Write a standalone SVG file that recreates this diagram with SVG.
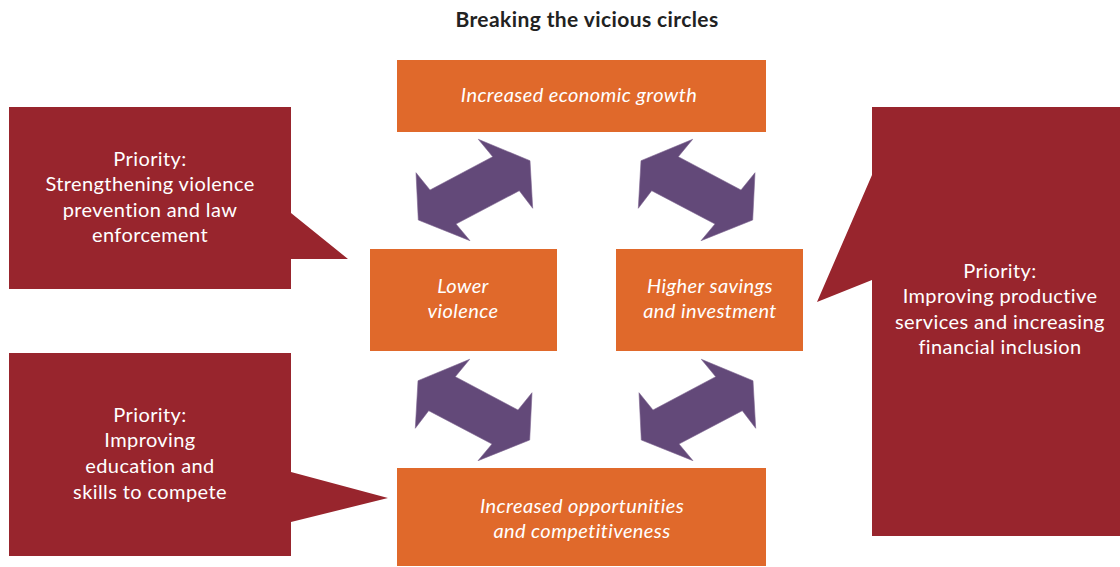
<svg xmlns="http://www.w3.org/2000/svg" width="1120" height="567" viewBox="0 0 1120 567">
<style>
.box{fill:#E0692B}
.call{fill:#98252D}
.arr{fill:#634979;stroke:#7d6590;stroke-width:0.6}
.bt{font-family:Lato,"Open Sans",sans-serif;font-style:italic;font-size:20px;letter-spacing:0.4px;fill:#fff;text-anchor:middle}
.ct{font-family:Lato,"Open Sans",sans-serif;font-size:20px;letter-spacing:0.4px;fill:#fff;text-anchor:middle}
.title{font-family:Lato,"Liberation Sans",sans-serif;font-weight:bold;font-size:21px;letter-spacing:0.4px;fill:#222;text-anchor:middle}
</style>
<defs>
<polygon id="dbl" points="478.3,139.3 530,160.7 532.7,208.3 519.3,190.7 456,224 470,240.7 418.3,220 416,172.7 430,190 492.7,156.7"/>
</defs>
<rect width="1120" height="567" fill="#fff"/>
<text class="title" x="587" y="27">Breaking the vicious circles</text>
<g id="callout-violence">
<path class="call" d="M9,107 H291 V213 L348,259 H291 V289 H9 Z"/>
<text class="ct" x="150" y="166">Priority:</text>
<text class="ct" x="150" y="191">Strengthening violence</text>
<text class="ct" x="150" y="217">prevention and law</text>
<text class="ct" x="150" y="242">enforcement</text>
</g>
<g id="callout-education">
<path class="call" d="M9,353 H291 V472 L388,498 L291,522 V556 H9 Z"/>
<text class="ct" x="150" y="422">Priority:</text>
<text class="ct" x="150" y="447">Improving</text>
<text class="ct" x="150" y="473">education and</text>
<text class="ct" x="150" y="499">skills to compete</text>
</g>
<g id="callout-services">
<path class="call" d="M872,107 H1120 V536 H872 V280 L817,302 L872,175 Z"/>
<text class="ct" x="1000" y="278">Priority:</text>
<text class="ct" x="1000" y="303">Improving productive</text>
<text class="ct" x="1000" y="329">services and increasing</text>
<text class="ct" x="1000" y="354">financial inclusion</text>
</g>
<g id="growth">
<rect class="box" x="397" y="60" width="369" height="72"/>
<text class="bt" x="579" y="102">Increased economic growth</text>
</g>
<g id="violence">
<rect class="box" x="370" y="249" width="187" height="102"/>
<text class="bt" x="463" y="293">Lower</text>
<text class="bt" x="463" y="318">violence</text>
</g>
<g id="savings">
<rect class="box" x="616" y="249" width="187" height="102"/>
<text class="bt" x="710" y="293">Higher savings</text>
<text class="bt" x="710" y="318">and investment</text>
</g>
<g id="opportunities">
<rect class="box" x="397" y="468" width="369" height="98"/>
<text class="bt" x="582" y="513">Increased opportunities</text>
<text class="bt" x="582" y="538">and competitiveness</text>
</g>
<g id="connectors">
<use href="#dbl" class="arr"/>
<use href="#dbl" class="arr" transform="translate(1171,0) scale(-1,1)"/>
<use href="#dbl" class="arr" transform="translate(948,220) scale(-1,1)"/>
<use href="#dbl" class="arr" transform="translate(223,220)"/>
</g>
</svg>
